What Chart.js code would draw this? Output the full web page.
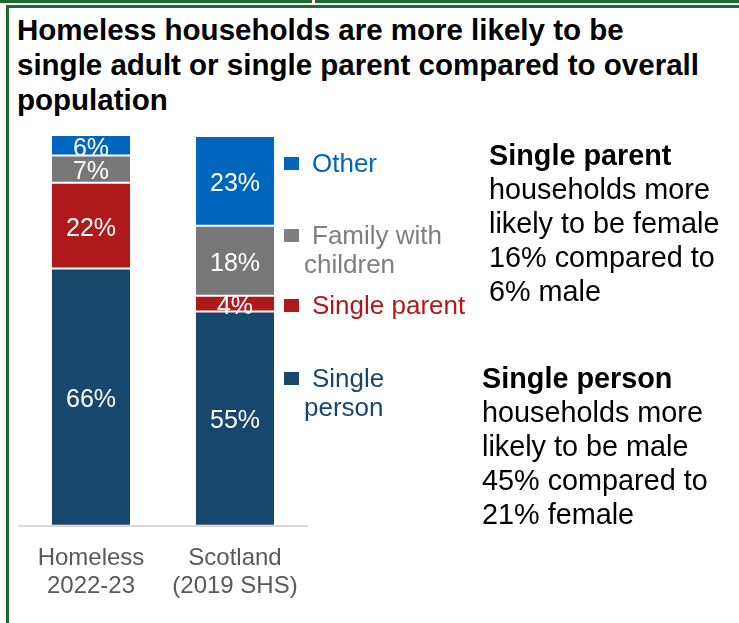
<!DOCTYPE html>
<html>
<head>
<meta charset="utf-8">
<script src="https://cdn.jsdelivr.net/npm/chart.js@4.4.1/dist/chart.umd.min.js"></script>
<style>
  html, body { margin: 0; padding: 0; background: #fff; }
  body { width: 739px; height: 623px; position: relative; overflow: hidden; font-family: "Liberation Sans", Arial, sans-serif; }
  #chart { position: absolute; left: 0; top: 0; }
  .rule { position: absolute; background: #1d6b2c; }
  .title { position: absolute; left: 17px; top: 12px; font-weight: bold; font-size: 29.5px; line-height: 35px; color: #000; white-space: nowrap; }
  .note { position: absolute; font-size: 28.8px; line-height: 34px; color: #000; white-space: nowrap; }
  .note b { font-weight: bold; }
  .key { position: absolute; font-size: 26px; line-height: 28px; white-space: nowrap; }
  .swatch { position: absolute; width: 15px; height: 13px; }
</style>
</head>
<body>
<div class="rule" style="left:0;top:0;width:312px;height:3px"></div>
<div class="rule" style="left:315px;top:0;width:424px;height:3px"></div>
<div class="rule" style="left:6px;top:5px;width:733px;height:3px"></div>
<div class="rule" style="left:6px;top:5px;width:3px;height:618px"></div>

<div class="title">Homeless households are more likely to be<br>single adult or single parent compared to overall<br>population</div>

<canvas id="chart" width="739" height="623"></canvas>

<div id="legend"></div>

<div class="note" style="left:489px;top:138px"><b>Single parent</b><br>households more<br>likely to be female<br>16% compared to<br>6% male</div>
<div class="note" style="left:482px;top:361px"><b>Single person</b><br>households more<br>likely to be male<br>45% compared to<br>21% female</div>

<script>
// household types, bottom of the stack first
const groups = [['Homeless', '2022-23'], ['Scotland', '(2019 SHS)']];
const singlePerson = [66, 55];
const singleParent = [22, 4];
const familyWithChildren = [7, 18];
const other = [6, 23];

const seriesNames = ['Single person', 'Single parent', 'Family with children', 'Other'];
const seriesColors = ['#17476c', '#b0191c', '#777777', '#0065bd'];

// white percentage labels in the middle of each segment
const segmentLabels = {
    id: 'segmentLabels',
    afterDatasetsDraw(chart) {
        const ctx = chart.ctx;
        const top = chart.chartArea.top;
        ctx.save();
        ctx.fillStyle = '#ffffff';
        ctx.font = '25px "Liberation Sans", Arial, sans-serif';
        ctx.textAlign = 'center';
        ctx.textBaseline = 'middle';
        chart.data.datasets.forEach((ds, i) => {
            chart.getDatasetMeta(i).data.forEach((bar, j) => {
                const y = (Math.max(bar.y, top) + bar.base) / 2;
                ctx.fillText(ds.data[j] + '%', bar.x, y + 3);
            });
        });
        ctx.restore();
    }
};

new Chart(document.getElementById('chart'), {
    type: 'bar',
    data: {
        labels: groups,
        datasets: [singlePerson, singleParent, familyWithChildren, other].map((vals, i) => ({
            label: seriesNames[i],
            data: vals,
            backgroundColor: seriesColors[i],
            borderColor: 'rgba(255,255,255,0.25)',
            borderWidth: 1,
            borderSkipped: false,
            barPercentage: 0.556,
            categoryPercentage: 1,
            clip: 0
        }))
    },
    options: {
        responsive: false,
        animation: false,
        layout: { padding: { left: 19, right: 432, top: 136, bottom: 4 } },
        plugins: {
            legend: { display: false },
            tooltip: { enabled: false }
        },
        scales: {
            x: {
                stacked: true,
                grid: { display: false, drawTicks: false },
                border: { color: '#d9d9d9', width: 2 },
                ticks: {
                    color: '#595959',
                    padding: 19,
                    maxRotation: 0,
                    font: { family: '"Liberation Sans", Arial, sans-serif', size: 24, lineHeight: 1.15 }
                }
            },
            y: {
                stacked: true,
                display: false,
                min: 0,
                max: 100
            }
        }
    },
    plugins: [segmentLabels]
});

// series keys beside the Scotland bar
const keyRows = [
    { color: '#0065bd', lines: ['Other'], y: 149 },
    { color: '#7f7f7f', lines: ['Family with', 'children'], y: 221 },
    { color: '#b0191c', lines: ['Single parent'], y: 291 },
    { color: '#17476c', lines: ['Single', 'person'], y: 364 }
];
const legend = document.getElementById('legend');
keyRows.forEach(row => {
    const sw = document.createElement('div');
    sw.className = 'swatch';
    sw.style.cssText = `left:284px;top:${row.y + 8}px;background:${row.color}`;
    legend.appendChild(sw);
    row.lines.forEach((line, k) => {
        const t = document.createElement('div');
        t.className = 'key';
        t.textContent = line;
        t.style.color = row.color;
        t.style.left = (k === 0 ? 312 : 304) + 'px';
        t.style.top = (row.y + k * 29) + 'px';
        legend.appendChild(t);
    });
});
</script>
</body>
</html>
